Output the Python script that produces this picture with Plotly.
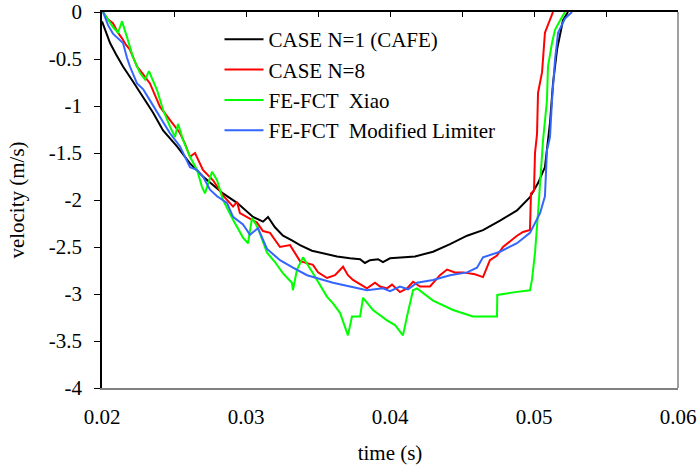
import plotly.graph_objects as go

# ---- data (time in s, velocity in m/s) ----
t_n1 = [0.02000, 0.02028, 0.02056, 0.02097, 0.02146, 0.02215, 0.02285, 0.02354, 0.02424, 0.02521,
        0.02611, 0.02701, 0.02771, 0.02840, 0.02938, 0.03049, 0.03118, 0.03153, 0.03201, 0.03257,
        0.03319, 0.03375, 0.03458, 0.03535, 0.03632, 0.03722, 0.03792, 0.03826, 0.03861, 0.03917,
        0.03951, 0.04000, 0.04069, 0.04174, 0.04299, 0.04417, 0.04535, 0.04646, 0.04764, 0.04882,
        0.04972, 0.05028, 0.05076, 0.05111, 0.05132, 0.05160, 0.05201, 0.05236]
v_n1 = [-0.10, -0.22, -0.33, -0.45, -0.58, -0.74, -0.90, -1.07, -1.26, -1.43,
        -1.61, -1.75, -1.84, -1.93, -2.03, -2.18, -2.23, -2.18, -2.29, -2.38,
        -2.43, -2.48, -2.54, -2.57, -2.60, -2.62, -2.63, -2.67, -2.64, -2.63,
        -2.66, -2.62, -2.61, -2.60, -2.55, -2.47, -2.38, -2.32, -2.22, -2.11,
        -1.97, -1.82, -1.65, -1.18, -0.76, -0.40, -0.09, 0.00]

t_n8 = [0.02007, 0.02042, 0.02076, 0.02111, 0.02139, 0.02167, 0.02194, 0.02243, 0.02285, 0.02333,
        0.02403, 0.02472, 0.02542, 0.02576, 0.02611, 0.02646, 0.02701, 0.02771, 0.02840, 0.02910,
        0.02938, 0.02958, 0.03007, 0.03076, 0.03118, 0.03167, 0.03236, 0.03306, 0.03375, 0.03465,
        0.03500, 0.03563, 0.03618, 0.03674, 0.03708, 0.03743, 0.03840, 0.03896, 0.03931, 0.03979,
        0.04014, 0.04069, 0.04118, 0.04160, 0.04208, 0.04278, 0.04347, 0.04396, 0.04451, 0.04507,
        0.04590, 0.04646, 0.04694, 0.04743, 0.04785, 0.04833, 0.04882, 0.04924, 0.04972, 0.04979,
        0.05000, 0.05007, 0.05021, 0.05028, 0.05056, 0.05076, 0.05111, 0.05132]
v_n8 = [0.00, -0.08, -0.12, -0.22, -0.28, -0.35, -0.40, -0.58, -0.66, -0.76,
        -1.01, -1.15, -1.29, -1.40, -1.54, -1.50, -1.68, -1.79, -1.95, -2.07,
        -2.02, -2.14, -2.18, -2.24, -2.33, -2.35, -2.50, -2.48, -2.65, -2.69,
        -2.77, -2.83, -2.80, -2.71, -2.80, -2.85, -2.94, -2.88, -2.92, -2.94,
        -2.90, -2.98, -2.94, -2.87, -2.92, -2.92, -2.80, -2.74, -2.77, -2.77,
        -2.79, -2.82, -2.64, -2.59, -2.50, -2.44, -2.38, -2.34, -2.32, -1.93,
        -1.90, -1.50, -1.30, -0.86, -0.64, -0.22, -0.09, 0.00]

t_xiao = [0.02007, 0.02042, 0.02076, 0.02111, 0.02139, 0.02174, 0.02215, 0.02264, 0.02299, 0.02326,
          0.02382, 0.02424, 0.02472, 0.02507, 0.02528, 0.02563, 0.02611, 0.02660, 0.02694, 0.02715,
          0.02764, 0.02799, 0.02840, 0.02910, 0.02979, 0.03014, 0.03042, 0.03083, 0.03146, 0.03201,
          0.03257, 0.03319, 0.03326, 0.03354, 0.03396, 0.03465, 0.03514, 0.03563, 0.03604, 0.03653,
          0.03708, 0.03736, 0.03792, 0.03813, 0.03882, 0.03979, 0.04035, 0.04090, 0.04118, 0.04160,
          0.04188, 0.04299, 0.04438, 0.04576, 0.04743, 0.04745, 0.04868, 0.04972, 0.04986, 0.05007,
          0.05028, 0.05042, 0.05063, 0.05090, 0.05097, 0.05125, 0.05146, 0.05181, 0.05215]
v_xiao = [0.00, -0.08, -0.16, -0.22, -0.10, -0.27, -0.48, -0.65, -0.72, -0.63,
          -0.83, -1.04, -1.22, -1.33, -1.19, -1.36, -1.54, -1.68, -1.86, -1.93,
          -1.70, -1.79, -2.00, -2.21, -2.40, -2.46, -2.19, -2.30, -2.56, -2.66,
          -2.78, -2.88, -2.96, -2.74, -2.61, -2.78, -2.90, -3.03, -3.10, -3.20,
          -3.44, -3.24, -3.24, -3.04, -3.17, -3.28, -3.33, -3.44, -3.24, -2.96,
          -2.94, -3.07, -3.17, -3.24, -3.24, -3.01, -2.98, -2.96, -2.85, -2.56,
          -2.14, -1.86, -1.36, -0.94, -0.58, -0.33, -0.19, -0.09, 0.00]

t_mod = [0.02007, 0.02042, 0.02076, 0.02111, 0.02146, 0.02174, 0.02194, 0.02243, 0.02285, 0.02333,
         0.02382, 0.02424, 0.02472, 0.02542, 0.02611, 0.02660, 0.02701, 0.02750, 0.02799, 0.02868,
         0.02910, 0.02979, 0.03028, 0.03083, 0.03146, 0.03236, 0.03326, 0.03424, 0.03514, 0.03604,
         0.03722, 0.03840, 0.03951, 0.04000, 0.04069, 0.04125, 0.04188, 0.04299, 0.04417, 0.04535,
         0.04604, 0.04646, 0.04764, 0.04882, 0.04972, 0.05021, 0.05042, 0.05076, 0.05090, 0.05111,
         0.05125, 0.05146, 0.05167, 0.05215, 0.05264]
v_mod = [0.00, -0.14, -0.23, -0.28, -0.33, -0.49, -0.58, -0.76, -0.82, -0.94,
         -1.07, -1.17, -1.29, -1.43, -1.65, -1.68, -1.75, -1.89, -1.96, -2.03,
         -2.18, -2.26, -2.37, -2.30, -2.52, -2.64, -2.72, -2.80, -2.84, -2.88,
         -2.92, -2.96, -2.94, -2.97, -2.92, -2.95, -2.88, -2.85, -2.80, -2.77,
         -2.72, -2.61, -2.55, -2.46, -2.35, -2.21, -2.14, -1.96, -1.47, -1.33,
         -0.94, -0.51, -0.22, -0.07, 0.00]

series_names = ["CASE N=1 (CAFE)", "CASE N=8", "FE-FCT  Xiao", "FE-FCT  Modified Limiter"]
series_colors = ["#000000", "#FF0000", "#00FF00", "#3366FF"]

x_tickvals = [0.02, 0.03, 0.04, 0.05, 0.06]
x_ticktext = ["0.02", "0.03", "0.04", "0.05", "0.06"]
y_tickvals = [0, -0.5, -1, -1.5, -2, -2.5, -3, -3.5, -4]
y_ticktext = ["0", "-0.5", "-1", "-1.5", "-2", "-2.5", "-3", "-3.5", "-4"]

FONT = "Liberation Serif"
FS = 21

fig = go.Figure()
for (tx, vy), name, col in zip([(t_n1, v_n1), (t_n8, v_n8), (t_xiao, v_xiao), (t_mod, v_mod)],
                               series_names, series_colors):
    fig.add_trace(go.Scatter(x=tx, y=vy, mode="lines", name=name,
                             line=dict(color=col, width=2)))

fig.update_layout(
    width=699, height=472,
    margin=dict(l=102, r=21, t=12, b=84),
    paper_bgcolor="white", plot_bgcolor="white",
    font=dict(family=FONT, size=FS, color="black"),
    showlegend=True,
    legend=dict(x=0.204, y=0.981, xanchor="left", yanchor="top",
                bgcolor="rgba(0,0,0,0)", borderwidth=0,
                font=dict(family=FONT, size=FS), itemwidth=39,
                tracegroupgap=0),
    xaxis=dict(range=[0.02, 0.06], tickvals=x_tickvals, ticktext=x_ticktext,
               showgrid=False, zeroline=False, showline=True, linecolor="#808080",
               linewidth=1.5, ticks="", side="bottom", automargin=False,
               ticklabelstandoff=9,
               title=dict(text="time (s)", standoff=17, font=dict(size=FS))),
    xaxis2=dict(range=[0.02, 0.06], overlaying="x", side="top", anchor="y",
                showgrid=False, zeroline=False, showline=True, linecolor="black",
                linewidth=1.5, ticks="inside", tickmode="linear", tick0=0.02,
                dtick=0.005, ticklen=5, tickcolor="black", showticklabels=False,
                automargin=False),
    yaxis=dict(range=[-4, 0], tickvals=y_tickvals, ticktext=y_ticktext,
               showgrid=False, zeroline=False, showline=True, linecolor="black",
               linewidth=1.5, ticks="outside", ticklen=6, tickcolor="black",
               automargin=False, ticklabelstandoff=8,
               title=dict(text="velocity (m/s)", standoff=18, font=dict(size=FS))),
    shapes=[dict(type="line", xref="paper", yref="paper", x0=1, x1=1, y0=0, y1=1,
                 line=dict(color="#808080", width=1.5))],
)
fig.add_trace(go.Scatter(x=[0.02, 0.06], y=[None, None], xaxis="x2", yaxis="y",
                         showlegend=False, hoverinfo="skip", mode="lines"))

fig.write_html("out.html", config={"displayModeBar": False},
               post_script="document.body.style.margin='0';document.body.style.overflow='hidden';")
